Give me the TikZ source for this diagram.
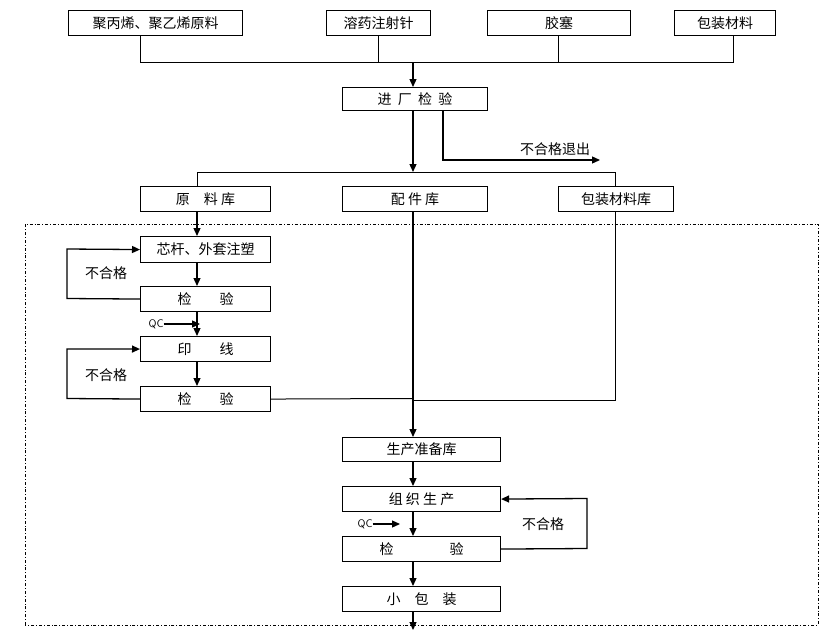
\documentclass[tikz,border=0pt]{standalone}
\usepackage{fontspec}
\setmainfont{Noto Sans CJK SC}
\usetikzlibrary{arrows.meta}
\begin{document}
\begin{tikzpicture}[x=1pt,y=-1pt,
 box/.style={draw,line width=1.1pt,inner sep=0pt,font=\fontsize{14}{14}\selectfont},
 ln/.style={line width=1pt},
 ar/.style={line width=1.3pt,-{Triangle[length=8pt,width=7pt]}},
 lab/.style={font=\fontsize{14}{14}\selectfont,inner sep=0pt}]
\useasboundingbox (0,0) rectangle (828,630);
\newcommand{\bx}[6]{\node[box,minimum width={#4-#2},minimum height={#5-#3},anchor=north west] (#1) at (#2,#3) {#6};}
\bx{t1}{68}{10}{242}{35}{聚丙烯、聚乙烯原料}
\bx{t2}{326}{10}{430}{35}{溶药注射针}
\bx{t3}{487}{10}{630}{35}{胶塞}
\bx{t4}{674}{10}{775}{35}{包装材料}
\bx{jc}{342}{87}{487}{110}{进\ \ 厂\ \ 检\ \ 验}
\bx{yl}{140}{186}{270}{211}{原\quad 料\ 库}
\bx{pj}{342}{186}{487}{211}{配\ 件\ 库}
\bx{bz}{558}{186}{673}{211}{包装材料库}
\bx{xg}{140}{236}{270}{262}{芯杆、外套注塑}
\bx{j1}{140}{286}{270}{311}{检\qquad 验}
\bx{yx}{140}{336}{270}{361}{印\qquad 线}
\bx{j2}{140}{386}{270}{411}{检\qquad 验}
\bx{sc}{342}{437}{500}{461}{生产准备库}
\bx{zz}{342}{486}{500}{511}{组\ 织\ 生\ 产}
\bx{j3}{342}{536}{500}{561}{检\qquad\qquad 验}
\bx{xb}{342}{586}{500}{611}{小\quad 包\quad 装}
\coordinate (b1) at (140,62); \coordinate (b4) at (733,62);
\draw[ln] (t1.south -| 140,0) -- (b1) -- (b4) -- (t4.south -| 733,0);
\draw[ln] (t2.south -| 378,0) -- (378,62);
\draw[ln] (t3.south -| 558,0) -- (558,62);
\draw[ar] (413,62) -- (jc.north -| 413,0);
\draw[ar] (jc.south -| 413,0) -- (413,172);
\draw[ar] (jc.south -| 443,0) -- (443,160) -- (600,160);
\node[lab,anchor=south] (bhg) at (555,156) {不合格退出};
\draw[ln] (yl.north -| 197,0) -- (197,172) -- (615,172) -- (bz.north -| 615,0);
\draw[ar] (yl.south -| 197,0) -- (xg.north -| 197,0);
\draw[ar] (xg.south -| 197,0) -- (j1.north -| 197,0);
\draw[ar] (j1.south -| 197,0) -- (yx.north -| 197,0);
\draw[ar] (yx.south -| 197,0) -- (j2.north -| 197,0);
\draw[ar] (j1.west) -- (67,298.5) -- (67,249) -- (xg.west);
\draw[ar] (j2.west) -- (67,398.5) -- (67,349) -- (yx.west);
\node[lab] (n1) at (106,273) {不合格};
\node[lab] (n2) at (106,375) {不合格};
\node[lab,font=\sffamily\fontsize{11}{11}\selectfont] (qc1) at (156,324) {QC};
\draw[ar] (qc1.east) -- (200,324);
\draw[ar] (pj.south -| 413,0) -- (sc.north -| 413,0);
\draw[ln] (j2.east) -- (413,398.5);
\draw[ln] (bz.south -| 615,0) -- (615,400) -- (413,400);
\draw[ar] (sc.south -| 413,0) -- (zz.north -| 413,0);
\draw[ar] (zz.south -| 413,0) -- (j3.north -| 413,0);
\draw[ar] (j3.south -| 413,0) -- (xb.north -| 413,0);
\draw[ar] (j3.east) -- (587,548.5) -- (587,498.5) -- (zz.east);
\node[lab] (n3) at (543,524) {不合格};
\node[lab,font=\sffamily\fontsize{11}{11}\selectfont] (qc2) at (365,524) {QC};
\draw[ar] (qc2.east) -- (400,524);
\draw[ar] (xb.south -| 413,0) -- (413,630);
\draw[line width=0.8pt,dash dot] (25,625) -- (25,224) -- (818,224) -- (818,625) -- cycle;
\end{tikzpicture}
\end{document}
